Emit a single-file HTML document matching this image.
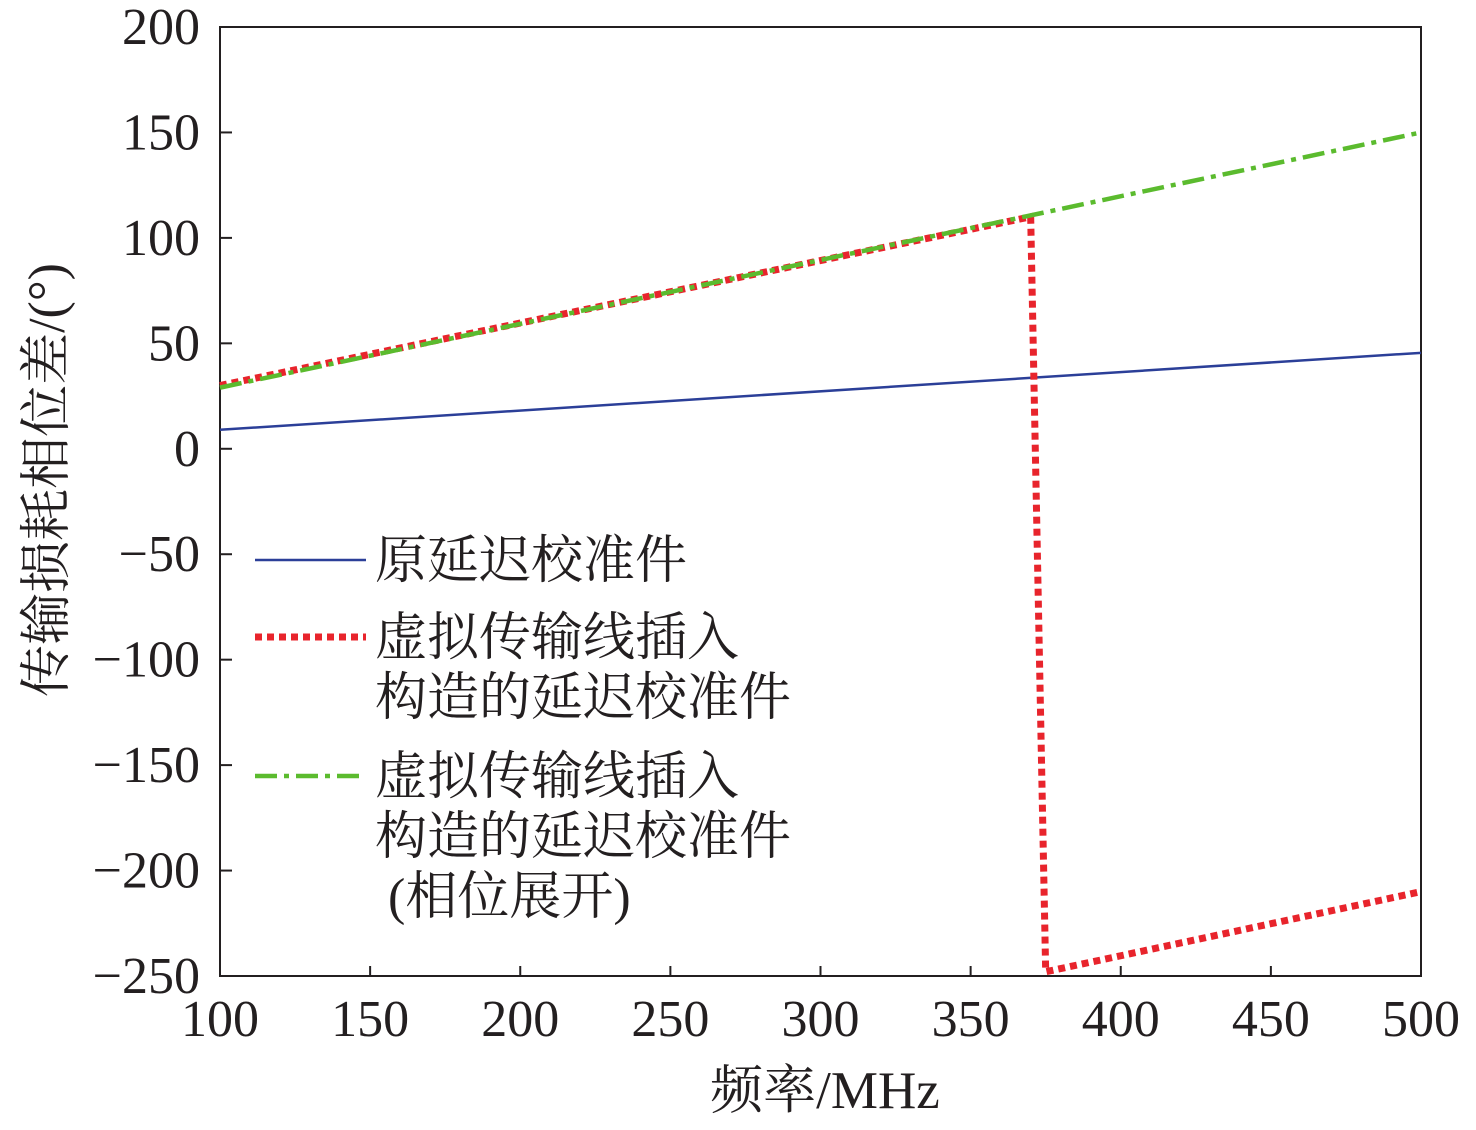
<!DOCTYPE html>
<html><head><meta charset="utf-8"><style>
body{margin:0;background:#fff;}
svg text{font-family:"Liberation Serif","Noto Serif CJK SC",serif;fill:#231f20;}
</style></head><body>
<svg id="chart" width="1476" height="1125" xmlns="http://www.w3.org/2000/svg"></svg>
<script>
const xTicks=[100,150,200,250,300,350,400,450,500];
const yTicks=[200,150,100,50,0,-50,-100,-150,-200,-250];
const blueX=[100,500];
const blueY=[9,45.5];
const redX=[100,370,375,500];
const redY=[30,110,-248,-210];
const greenX=[100,500];
const greenY=[29,150];
const L=220,R=1421,T=27,B=976;
const sx=v=>L+(v-100)/400*(R-L);
const sy=v=>T+(200-v)/450*(B-T);
const svg=document.getElementById('chart');
const NS='http://www.w3.org/2000/svg';
function mk(t,a){const e=document.createElementNS(NS,t);for(const k in a)e.setAttribute(k,a[k]);svg.appendChild(e);return e;}
const frame=mk('rect',{x:L,y:T,width:R-L,height:B-T,fill:'none',stroke:'#231f20','stroke-width':2});


xTicks.forEach(v=>{
 const t=mk('line',{x1:sx(v),x2:sx(v),y1:B,y2:B-10,stroke:'#231f20','stroke-width':2});
 
 
 const l=mk('text',{x:sx(v),y:B+60,'text-anchor':'middle','font-size':52});
 l.textContent=v;
 
 
});
yTicks.forEach(v=>{
 const t=mk('line',{x1:L,x2:L+12,y1:sy(v),y2:sy(v),stroke:'#231f20','stroke-width':2});
 
 
 const l=mk('text',{x:200,y:sy(v)+17,'text-anchor':'end','font-size':52});
 l.textContent=v<0?'\u2212'+(-v):v;
 
 
});
function series(xs,ys,attrs,name){
 const p=mk('polyline',Object.assign({points:xs.map((x,i)=>sx(x)+','+sy(ys[i])).join(' '),fill:'none'},attrs));
 
 
}
const gStyle={stroke:'#5bbb2e','stroke-width':4.5,'stroke-dasharray':'22,7,5,7'};
const rStyle={stroke:'#e8242c','stroke-width':7,'stroke-dasharray':'7,5'};
series(blueX,blueY,{stroke:'#2b3f98','stroke-width':2.5},'series-original');
series(redX,redY,rStyle,'series-virtual-line');
series(greenX,greenY,gStyle,'series-unwrapped');
const xt=mk('text',{x:825,y:1108,'text-anchor':'middle','font-size':53});
xt.textContent='频率/MHz';


const yt=mk('text',{x:0,y:0,'text-anchor':'middle','font-size':52,transform:'translate(64,480) rotate(-90)'});
yt.textContent='传输损耗相位差/(°)';


const leg=[
 {y:560,st:{stroke:'#2b3f98','stroke-width':2.5},lines:['原延迟校准件'],n:'legend-original'},
 {y:637,st:rStyle,lines:['虚拟传输线插入','构造的延迟校准件'],n:'legend-virtual'},
 {y:776,st:gStyle,lines:['虚拟传输线插入','构造的延迟校准件','\u00a0(相位展开)'],n:'legend-unwrapped'}
];
leg.forEach(g=>{
 const ln=mk('line',Object.assign({x1:255,x2:366,y1:g.y,y2:g.y},g.st));
 
 
 g.lines.forEach((s,i)=>{
  const t=mk('text',{x:375,y:g.y+18+i*60,'font-size':52});
  t.textContent=s;
  
  
 });
});
</script>
</body></html>
